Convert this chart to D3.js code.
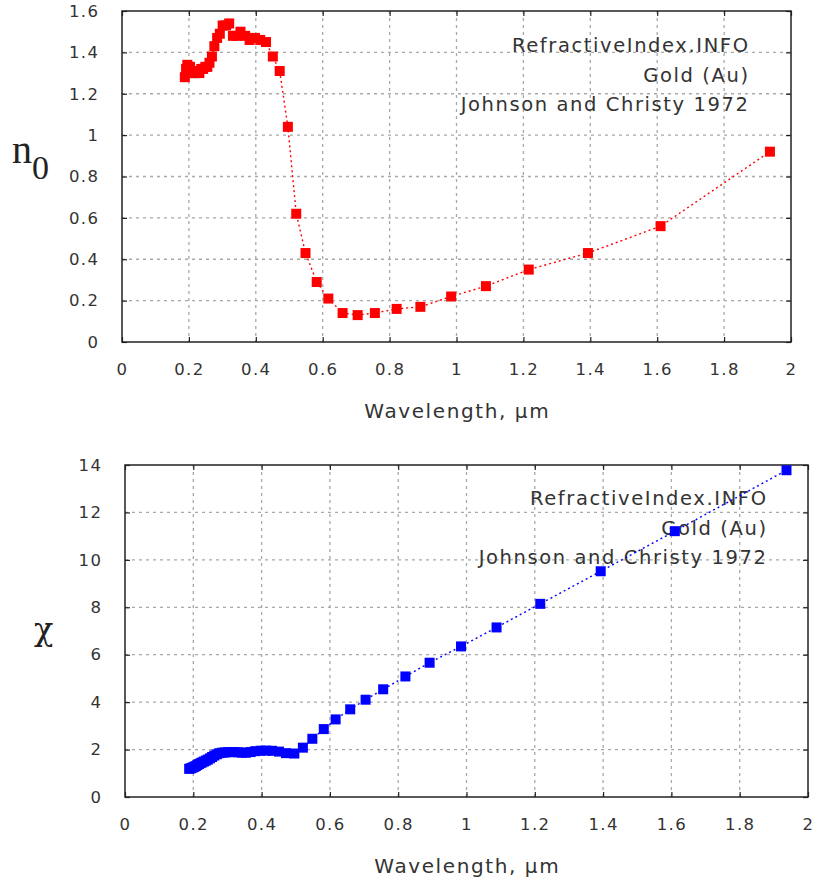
<!DOCTYPE html>
<html><head><meta charset="utf-8">
<script src="https://cdn.jsdelivr.net/npm/d3@7"></script>
<style>body{margin:0;background:#fff}</style>
</head><body>
<svg id="c" width="814" height="885"></svg>
<script>
const wavelength = [0.1879,0.1916,0.1953,0.1993,0.2033,0.2073,0.2119,0.2164,0.2214,0.2262,0.2313,0.2371,0.2426,0.2490,0.2551,0.2616,0.2689,0.2761,0.2844,0.2924,0.3009,0.3107,0.3204,0.3315,0.3425,0.3542,0.3679,0.3815,0.3974,0.4133,0.4305,0.4509,0.4714,0.4959,0.5209,0.5486,0.5821,0.6168,0.6595,0.7045,0.7560,0.8211,0.8920,0.9840,1.0880,1.2160,1.3930,1.6100,1.9370];
const nValues = [1.28,1.32,1.34,1.33,1.33,1.30,1.30,1.30,1.30,1.31,1.30,1.32,1.32,1.33,1.33,1.35,1.38,1.43,1.47,1.49,1.53,1.53,1.54,1.48,1.48,1.50,1.48,1.46,1.47,1.46,1.45,1.38,1.31,1.04,0.62,0.43,0.29,0.21,0.14,0.13,0.14,0.16,0.17,0.22,0.27,0.35,0.43,0.56,0.92];
const kValues = [1.188,1.203,1.226,1.251,1.277,1.304,1.350,1.387,1.427,1.460,1.497,1.536,1.577,1.631,1.688,1.749,1.803,1.847,1.869,1.878,1.889,1.893,1.898,1.883,1.871,1.866,1.895,1.933,1.952,1.958,1.948,1.914,1.849,1.833,2.081,2.455,2.863,3.272,3.697,4.103,4.542,5.083,5.663,6.350,7.150,8.145,9.519,11.21,13.78];
const xTicks = [0,0.2,0.4,0.6,0.8,1,1.2,1.4,1.6,1.8,2];
const nTicks = [0,0.2,0.4,0.6,0.8,1,1.2,1.4,1.6];
const kTicks = [0,2,4,6,8,10,12,14];
const annotation = ["RefractiveIndex.INFO","Gold (Au)","Johnson and Christy 1972"];
const xTitle = "Wavelength, µm";

const svg = d3.select("#c");
svg.append("rect").attr("width",814).attr("height",885).attr("fill","#fff");
const LS = 1.4, LS2 = 1.6;

function panel(o){
  const g = svg.append("g");
  const x = d3.scaleLinear().domain([0,2]).range([o.left,o.right]);
  const y = d3.scaleLinear().domain([0,o.ymax]).range([o.bottom,o.top]);
  const fmt = d => String(+d.toFixed(1));
  g.selectAll(".gx").data(xTicks.slice(1,-1)).join("line")
    .attr("x1",d=>x(d)).attr("x2",d=>x(d)).attr("y1",o.top).attr("y2",o.bottom)
    .attr("stroke","#a8a8a8").attr("stroke-width",1.3).attr("stroke-dasharray","3,4");
  g.selectAll(".gy").data(o.yTicks.slice(1,-1)).join("line")
    .attr("x1",o.left).attr("x2",o.right).attr("y1",d=>y(d)).attr("y2",d=>y(d))
    .attr("stroke","#a8a8a8").attr("stroke-width",1.3).attr("stroke-dasharray","3,4");
  const axB = g.append("g").attr("transform",`translate(0,${o.bottom})`)
    .call(d3.axisBottom(x).tickValues(xTicks).tickSize(-5).tickPadding(21).tickFormat(fmt));
  const axT = g.append("g").attr("transform",`translate(0,${o.top})`)
    .call(d3.axisTop(x).tickValues(xTicks).tickSize(-5).tickFormat(""));
  const axL = g.append("g").attr("transform",`translate(${o.left},0)`)
    .call(d3.axisLeft(y).tickValues(o.yTicks).tickSize(-5).tickPadding(o.ypad).tickFormat(fmt));
  const axR = g.append("g").attr("transform",`translate(${o.right},0)`)
    .call(d3.axisRight(y).tickValues(o.yTicks).tickSize(-5).tickFormat(""));
  [axB,axT,axL,axR].forEach(a=>{
    a.select(".domain").remove();
    a.selectAll("line").attr("stroke","#222").attr("stroke-width",1.2);
    a.selectAll("text").attr("fill","#333").attr("font-family","DejaVu Sans").attr("font-size",16.5)
      .attr("letter-spacing",LS);
  });
  axL.selectAll("text").attr("dx",LS);
  g.append("rect").attr("x",o.left).attr("y",o.top).attr("width",o.right-o.left).attr("height",o.bottom-o.top)
    .attr("fill","none").attr("stroke","#222").attr("stroke-width",1.5);
  annotation.forEach((t,i)=>{
    g.append("text").attr("x",o.annX+LS2).attr("y",o.annY+i*29.5).attr("text-anchor","end")
      .attr("font-family","DejaVu Sans").attr("font-size",19.5).attr("letter-spacing",LS2)
      .attr("fill","#333").text(t);
  });
  const data = wavelength.map((w,i)=>[w,o.values[i]]);
  g.append("path").datum(data).attr("fill","none").attr("stroke",o.color).attr("stroke-width",1.4)
    .attr("stroke-dasharray","2,3")
    .attr("d",d3.line().x(d=>x(d[0])).y(d=>y(d[1])));
  g.selectAll(".m").data(data).join("rect")
    .attr("x",d=>x(d[0])-5).attr("y",d=>y(d[1])-5).attr("width",10).attr("height",10)
    .attr("fill",o.color);
  g.append("text").attr("x",(o.left+o.right)/2+LS2/2).attr("y",o.bottom+76).attr("text-anchor","middle")
    .attr("font-family","DejaVu Sans").attr("font-size",20).attr("letter-spacing",LS2)
    .attr("fill","#333").text(xTitle);
  return g;
}

panel({left:122,right:791,top:11,bottom:342,ymax:1.6,yTicks:nTicks,ypad:24,values:nValues,color:"#ff0000",annX:748,annY:52});
panel({left:125,right:808,top:465,bottom:797,ymax:14,yTicks:kTicks,ypad:24,values:kValues,color:"#0000ff",annX:766,annY:505});

const t1 = svg.append("text").attr("x",12).attr("y",163).attr("font-family","Liberation Serif").attr("font-size",40).attr("fill","#222");
t1.append("tspan").text("n");
t1.append("tspan").attr("dy",16).attr("font-size",34).text("0");
svg.append("text").attr("x",34).attr("y",640).attr("font-family","DejaVu Serif").attr("font-size",32).attr("fill","#222").text("χ");
</script>
</body></html>
